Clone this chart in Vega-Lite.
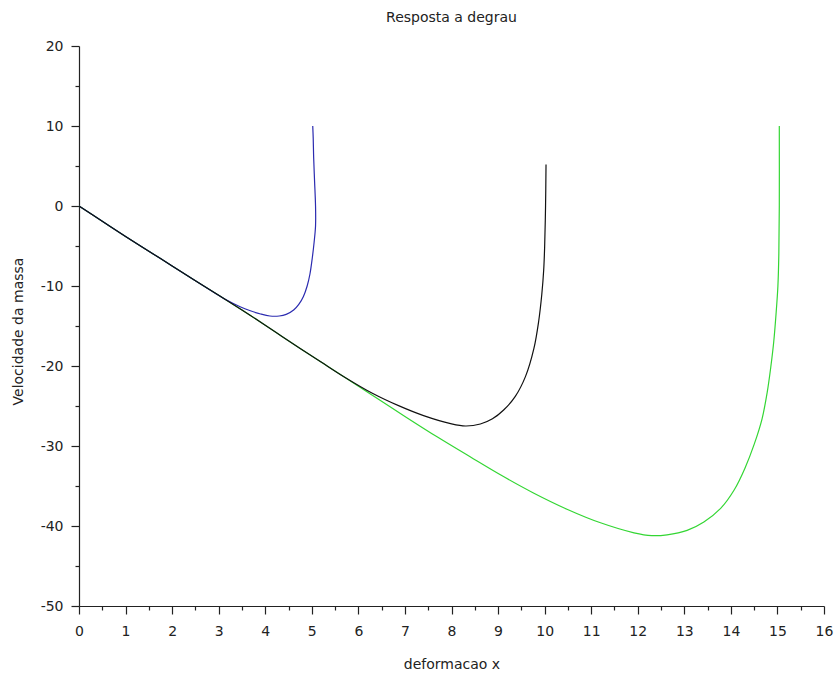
{
  "$schema": "https://vega.github.io/schema/vega-lite/v6.json",
  "autosize": "none",
  "width": 745,
  "height": 560,
  "padding": {"left": 79, "top": 46, "right": 13, "bottom": 73},
  "background": "white",
  "config": {
    "view": {"stroke": null},
    "font": "DejaVu Sans",
    "title": {"font": "DejaVu Sans", "fontSize": 14, "fontWeight": "normal", "color": "#222"}
  },
  "title": {"text": "Resposta a degrau", "offset": 14, "anchor": "middle"},
  "data": {
    "values": [
      {"serie": "L15", "t": 0, "x": 0, "v": 0},
      {"serie": "L15", "t": 1, "x": 0.5, "v": -1.9},
      {"serie": "L15", "t": 2, "x": 1, "v": -3.8},
      {"serie": "L15", "t": 3, "x": 1.5, "v": -5.65},
      {"serie": "L15", "t": 4, "x": 2, "v": -7.5},
      {"serie": "L15", "t": 5, "x": 2.5, "v": -9.35},
      {"serie": "L15", "t": 6, "x": 3, "v": -11.15},
      {"serie": "L15", "t": 7, "x": 3.5, "v": -13.0},
      {"serie": "L15", "t": 8, "x": 4, "v": -14.9},
      {"serie": "L15", "t": 9, "x": 4.36, "v": -16.3},
      {"serie": "L15", "t": 10, "x": 4.75, "v": -17.8},
      {"serie": "L15", "t": 11, "x": 5.2, "v": -19.5},
      {"serie": "L15", "t": 12, "x": 5.68, "v": -21.3},
      {"serie": "L15", "t": 13, "x": 6.3, "v": -23.65},
      {"serie": "L15", "t": 14, "x": 7.0, "v": -26.3},
      {"serie": "L15", "t": 15, "x": 7.69, "v": -28.85},
      {"serie": "L15", "t": 16, "x": 8.4, "v": -31.35},
      {"serie": "L15", "t": 17, "x": 9.05, "v": -33.6},
      {"serie": "L15", "t": 18, "x": 9.77, "v": -35.9},
      {"serie": "L15", "t": 19, "x": 10.48, "v": -37.9},
      {"serie": "L15", "t": 20, "x": 11.2, "v": -39.6},
      {"serie": "L15", "t": 21, "x": 11.92, "v": -40.85},
      {"serie": "L15", "t": 22, "x": 12.3, "v": -41.2},
      {"serie": "L15", "t": 23, "x": 12.63, "v": -41.1},
      {"serie": "L15", "t": 24, "x": 13.06, "v": -40.55},
      {"serie": "L15", "t": 25, "x": 13.42, "v": -39.5},
      {"serie": "L15", "t": 26, "x": 13.78, "v": -37.8},
      {"serie": "L15", "t": 27, "x": 14.07, "v": -35.5},
      {"serie": "L15", "t": 28, "x": 14.3, "v": -32.8},
      {"serie": "L15", "t": 29, "x": 14.5, "v": -29.8},
      {"serie": "L15", "t": 30, "x": 14.67, "v": -26.6},
      {"serie": "L15", "t": 31, "x": 14.78, "v": -23.3},
      {"serie": "L15", "t": 32, "x": 14.86, "v": -20.0},
      {"serie": "L15", "t": 33, "x": 14.92, "v": -17.0},
      {"serie": "L15", "t": 34, "x": 14.97, "v": -13.5},
      {"serie": "L15", "t": 35, "x": 15.01, "v": -10.0},
      {"serie": "L15", "t": 36, "x": 15.03, "v": -6.0},
      {"serie": "L15", "t": 37, "x": 15.04, "v": 0},
      {"serie": "L15", "t": 38, "x": 15.04, "v": 10},

      {"serie": "L5", "t": 0, "x": 0, "v": 0},
      {"serie": "L5", "t": 1, "x": 0.5, "v": -1.9},
      {"serie": "L5", "t": 2, "x": 1, "v": -3.8},
      {"serie": "L5", "t": 3, "x": 1.5, "v": -5.65},
      {"serie": "L5", "t": 4, "x": 2, "v": -7.5},
      {"serie": "L5", "t": 5, "x": 2.5, "v": -9.35},
      {"serie": "L5", "t": 6, "x": 2.9, "v": -10.8},
      {"serie": "L5", "t": 7, "x": 3.2, "v": -11.85},
      {"serie": "L5", "t": 8, "x": 3.46, "v": -12.6},
      {"serie": "L5", "t": 9, "x": 3.68, "v": -13.1},
      {"serie": "L5", "t": 10, "x": 3.9, "v": -13.5},
      {"serie": "L5", "t": 11, "x": 4.1, "v": -13.75},
      {"serie": "L5", "t": 12, "x": 4.3, "v": -13.75},
      {"serie": "L5", "t": 13, "x": 4.45, "v": -13.55},
      {"serie": "L5", "t": 14, "x": 4.61, "v": -13.0},
      {"serie": "L5", "t": 15, "x": 4.72, "v": -12.3},
      {"serie": "L5", "t": 16, "x": 4.82, "v": -11.3},
      {"serie": "L5", "t": 17, "x": 4.9, "v": -10.0},
      {"serie": "L5", "t": 18, "x": 4.96, "v": -8.5},
      {"serie": "L5", "t": 19, "x": 5.01, "v": -6.5},
      {"serie": "L5", "t": 20, "x": 5.05, "v": -4.5},
      {"serie": "L5", "t": 21, "x": 5.08, "v": -2.5},
      {"serie": "L5", "t": 22, "x": 5.08, "v": 0},
      {"serie": "L5", "t": 23, "x": 5.06, "v": 3},
      {"serie": "L5", "t": 24, "x": 5.04, "v": 6},
      {"serie": "L5", "t": 25, "x": 5.03, "v": 8.5},
      {"serie": "L5", "t": 26, "x": 5.02, "v": 10},

      {"serie": "L10", "t": 0, "x": 0, "v": 0},
      {"serie": "L10", "t": 1, "x": 0.5, "v": -1.9},
      {"serie": "L10", "t": 2, "x": 1, "v": -3.8},
      {"serie": "L10", "t": 3, "x": 1.5, "v": -5.65},
      {"serie": "L10", "t": 4, "x": 2, "v": -7.5},
      {"serie": "L10", "t": 5, "x": 2.5, "v": -9.35},
      {"serie": "L10", "t": 6, "x": 3, "v": -11.15},
      {"serie": "L10", "t": 7, "x": 3.5, "v": -13.0},
      {"serie": "L10", "t": 8, "x": 4, "v": -14.9},
      {"serie": "L10", "t": 9, "x": 4.36, "v": -16.3},
      {"serie": "L10", "t": 10, "x": 4.75, "v": -17.8},
      {"serie": "L10", "t": 11, "x": 5.2, "v": -19.5},
      {"serie": "L10", "t": 12, "x": 5.68, "v": -21.3},
      {"serie": "L10", "t": 13, "x": 6.3, "v": -23.4},
      {"serie": "L10", "t": 14, "x": 6.9, "v": -25.05},
      {"serie": "L10", "t": 15, "x": 7.4, "v": -26.2},
      {"serie": "L10", "t": 16, "x": 7.98, "v": -27.2},
      {"serie": "L10", "t": 17, "x": 8.3, "v": -27.5},
      {"serie": "L10", "t": 18, "x": 8.62, "v": -27.25},
      {"serie": "L10", "t": 19, "x": 8.88, "v": -26.6},
      {"serie": "L10", "t": 20, "x": 9.12, "v": -25.5},
      {"serie": "L10", "t": 21, "x": 9.37, "v": -23.8},
      {"serie": "L10", "t": 22, "x": 9.59, "v": -21.3},
      {"serie": "L10", "t": 23, "x": 9.77, "v": -17.8},
      {"serie": "L10", "t": 24, "x": 9.87, "v": -14.5},
      {"serie": "L10", "t": 25, "x": 9.94, "v": -11.0},
      {"serie": "L10", "t": 26, "x": 9.98, "v": -8.0},
      {"serie": "L10", "t": 27, "x": 10.0, "v": -5.2},
      {"serie": "L10", "t": 28, "x": 10.02, "v": 0},
      {"serie": "L10", "t": 29, "x": 10.03, "v": 5.2}
    ]
  },
  "mark": {"type": "line", "strokeWidth": 1.2, "interpolate": "catmull-rom"},
  "encoding": {
    "x": {
      "field": "x", "type": "quantitative",
      "scale": {"domain": [0, 16], "nice": false, "zero": false},
      "axis": {
        "title": "deformacao x",
        "values": [0,0.5,1,1.5,2,2.5,3,3.5,4,4.5,5,5.5,6,6.5,7,7.5,8,8.5,9,9.5,10,10.5,11,11.5,12,12.5,13,13.5,14,14.5,15,15.5,16],
        "labelExpr": "datum.value % 1 === 0 ? '' + datum.value : ''",
        "grid": false,
        "domainColor": "#222", "domainWidth": 1.2,
        "tickColor": "#222", "tickWidth": 1.2,
        "tickSize": {"condition": {"test": "datum.value % 1 === 0", "value": 8}, "value": 4},
        "labelPadding": 10,
        "labelFont": "DejaVu Sans", "labelFontSize": 14, "labelColor": "#222",
        "labelFlush": false, "labelOverlap": false,
        "titleFont": "DejaVu Sans", "titleFontSize": 14, "titleFontWeight": "normal", "titleColor": "#222",
        "titleBaseline": "middle", "titleY": 58
      }
    },
    "y": {
      "field": "v", "type": "quantitative",
      "scale": {"domain": [-50, 20], "nice": false, "zero": false},
      "axis": {
        "title": "Velocidade da massa",
        "values": [-50,-45,-40,-35,-30,-25,-20,-15,-10,-5,0,5,10,15,20],
        "labelExpr": "datum.value % 10 === 0 ? '' + datum.value : ''",
        "grid": false,
        "domainColor": "#222", "domainWidth": 1.2,
        "tickColor": "#222", "tickWidth": 1.2,
        "tickSize": {"condition": {"test": "datum.value % 10 === 0", "value": 8}, "value": 4},
        "labelPadding": 8,
        "labelFont": "DejaVu Sans", "labelFontSize": 14, "labelColor": "#222",
        "labelFlush": false, "labelOverlap": false,
        "titleFont": "DejaVu Sans", "titleFontSize": 14, "titleFontWeight": "normal", "titleColor": "#222",
        "titleBaseline": "middle", "titleX": -61, "titleY": 285
      }
    },
    "order": {"field": "t", "type": "quantitative"},
    "color": {
      "field": "serie", "type": "nominal",
      "scale": {"domain": ["L5", "L10", "L15"], "range": ["#2b2bb0", "#111111", "#33d633"]},
      "legend": null
    }
  }
}
